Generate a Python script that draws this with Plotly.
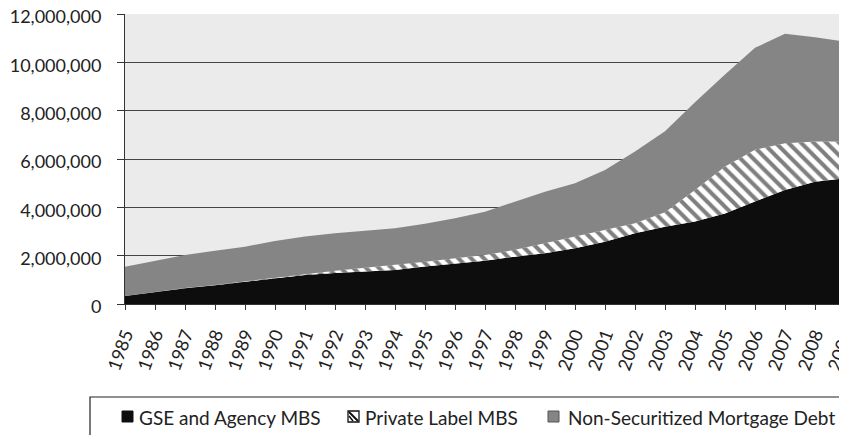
import plotly.graph_objects as go

years = list(range(1985, 2010))

# Values in millions of dollars
gse_agency_mbs = [330000, 500000, 650000, 780000, 920000, 1050000, 1200000, 1280000,
                  1350000, 1410000, 1550000, 1680000, 1790000, 1960000, 2100000, 2310000,
                  2580000, 2930000, 3200000, 3410000, 3750000, 4240000, 4720000, 5060000,
                  5200000]
private_label_mbs = [0, 0, 10000, 10000, 20000, 30000, 40000, 100000, 150000, 200000,
                     200000, 210000, 240000, 280000, 410000, 480000, 480000, 410000,
                     600000, 1310000, 1940000, 2140000, 1930000, 1660000, 1520000]
non_securitized = [1210000, 1280000, 1370000, 1410000, 1430000, 1530000, 1550000, 1550000,
                   1530000, 1520000, 1570000, 1660000, 1790000, 2000000, 2140000, 2210000,
                   2490000, 2970000, 3350000, 3630000, 3810000, 4220000, 4530000, 4320000,
                   4140000]

series_names = ["GSE and Agency MBS", "Private Label MBS", "Non-Securitized Mortgage Debt"]
y_ticks = [0, 2000000, 4000000, 6000000, 8000000, 10000000, 12000000]

FONT = "Lato"
BLACK = "#0d0d0d"
GRAY = "#858585"

fig = go.Figure()
fig.add_trace(go.Scatter(
    x=years, y=gse_agency_mbs, name=series_names[0], stackgroup="one",
    mode="lines", line=dict(width=0, color=BLACK), fillcolor=BLACK, showlegend=False,
))
fig.add_trace(go.Scatter(
    x=years, y=private_label_mbs, name=series_names[1], stackgroup="one",
    mode="lines", line=dict(width=0, color="#000000"), showlegend=False,
    fillpattern=dict(shape="\\", bgcolor="#ffffff", fgcolor="#000000",
                     size=9, solidity=0.45),
))
fig.add_trace(go.Scatter(
    x=years, y=non_securitized, name=series_names[2], stackgroup="one",
    mode="lines", line=dict(width=0, color=GRAY), fillcolor=GRAY, showlegend=False,
))

# page body has an 8px margin; lay the figure out in screen pixels
OFF = 8
W, H = 847 - OFF, 435 - OFF
L, T = 125 - OFF, 14 - OFF
B = H - (304 - OFF)
R = W - (845 - OFF)
pw, ph = W - L - R, H - T - B


def sx(p):
    return (p - OFF - L) / pw


def sy(p):
    return (H - B - (p - OFF)) / ph


shapes = []
# legend box
shapes.append(dict(type="rect", xref="paper", yref="paper",
                   x0=sx(90), x1=sx(900), y0=sy(397), y1=sy(480),
                   line=dict(color="#222222", width=1.2), fillcolor="white", layer="below"))
# legend keys
key_top, key_bot = 411, 422
shapes.append(dict(type="rect", xref="paper", yref="paper",
                   x0=sx(122), x1=sx(133), y0=sy(key_bot), y1=sy(key_top),
                   line=dict(color="#111111", width=1), fillcolor=BLACK))
shapes.append(dict(type="rect", xref="paper", yref="paper",
                   x0=sx(348), x1=sx(359), y0=sy(key_bot), y1=sy(key_top),
                   line=dict(color="#111111", width=1.3), fillcolor="white"))
shapes.append(dict(type="line", xref="paper", yref="paper",
                   x0=sx(349), x1=sx(358), y0=sy(key_top + 1), y1=sy(key_bot - 1),
                   line=dict(color="#111111", width=2)))
shapes.append(dict(type="line", xref="paper", yref="paper",
                   x0=sx(349), x1=sx(353), y0=sy(key_top + 5), y1=sy(key_bot - 1),
                   line=dict(color="#111111", width=1.5)))
shapes.append(dict(type="rect", xref="paper", yref="paper",
                   x0=sx(548), x1=sx(559), y0=sy(key_bot), y1=sy(key_top),
                   line=dict(color="#555555", width=1), fillcolor=GRAY))

annotations = []
for name, xs in zip(series_names, [137, 363, 566]):
    annotations.append(dict(xref="paper", yref="paper", x=sx(xs), y=sy(417),
                            xanchor="left", yanchor="middle", showarrow=False,
                            text=name, font=dict(family=FONT, size=19, color="#222222")))

fig.update_layout(
    width=W, height=H,
    margin=dict(l=L, r=R, t=T, b=B, autoexpand=False),
    paper_bgcolor="white",
    plot_bgcolor="#ebebeb",
    font=dict(family=FONT, size=18, color="#222222"),
    showlegend=False,
    shapes=shapes,
    annotations=annotations,
    xaxis=dict(
        range=[1985, 2009], tickmode="array", tickvals=years,
        ticktext=[str(y) for y in years], tickangle=-70,
        ticks="outside", ticklen=5, tickcolor="#333333",
        showline=True, linecolor="#333333", linewidth=1,
        showgrid=False, zeroline=False,
        tickfont=dict(family=FONT, size=18, color="#222222"),
        ticklabelstandoff=7, ticklabeloverflow="allow",
    ),
    yaxis=dict(
        range=[0, 12000000], tickmode="array", tickvals=y_ticks,
        tickformat=",d", ticks="outside", ticklen=7, tickcolor="#333333",
        showline=True, linecolor="#333333", linewidth=1,
        showgrid=True, gridcolor="#444444", gridwidth=1,
        zeroline=False, layer="below traces",
        tickfont=dict(family=FONT, size=18, color="#222222"),
        ticklabelstandoff=12, ticklabeloverflow="allow", ticklabelshift=3,
    ),
)

fig.write_html("out.html")
